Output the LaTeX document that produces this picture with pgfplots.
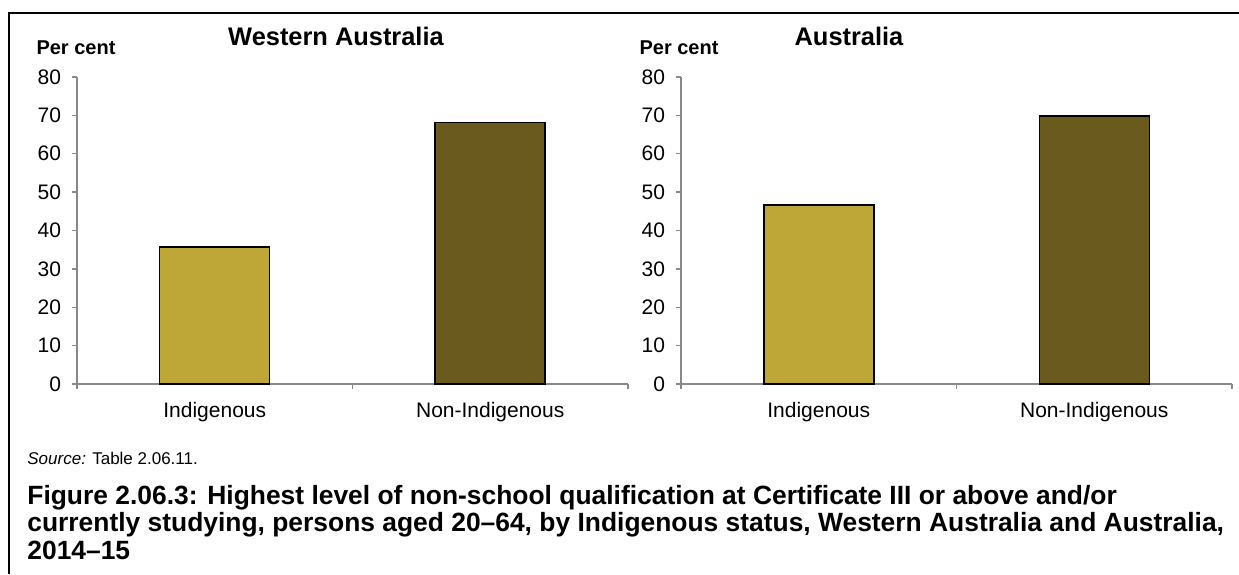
\documentclass[border=0pt]{standalone}
\usepackage{pgfplots}
\pgfplotsset{compat=1.18}
\usepackage{fontspec}
\setmainfont{Liberation Sans}
\definecolor{gold}{RGB}{190,167,54}
\definecolor{olive}{RGB}{106,90,30}
\definecolor{axgray}{RGB}{137,137,137}
\pgfplotsset{panel/.style={
  scale only axis, width=275.5pt, height=153.5pt,
  anchor=south west,
  xmin=-0.5, xmax=1.5, ymin=0, ymax=80,
  ytick={0,10,...,80},
  xtick={-0.5,0.5,1.5}, xticklabels={},
  extra x ticks={0,1},
  extra x tick labels={Indigenous,Non-Indigenous},
  extra x tick style={tick style={draw=none}},
  axis x line*=bottom, axis y line*=left,
  axis line style={draw=axgray, line width=0.7pt},
  tick style={draw=axgray, line width=0.7pt},
  tick align=outside,
  major tick length=2.5pt,
  /pgf/number format/assume math mode=true,
  tick label style={font=\fontsize{10.5}{12}\selectfont},
  yticklabel style={xshift=-2pt},
  xticklabel style={yshift=-3pt},
  clip=false,
}}
\begin{document}
\begin{tikzpicture}
\useasboundingbox (0,0) rectangle (619.5pt,287pt);
\draw[line width=0.9pt] (4.5pt,0) -- (4.5pt,280.5pt) -- (619.5pt,280.5pt);
\begin{axis}[panel, at={(38.5pt,95pt)}]
\addplot[ybar, bar width=55pt, fill=gold, draw=black, line width=0.75pt] coordinates {(0,35.7)};
\addplot[ybar, bar width=55pt, fill=olive, draw=black, line width=0.75pt] coordinates {(1,68.1)};
\end{axis}
\begin{axis}[panel, at={(340.5pt,95pt)}]
\addplot[ybar, bar width=55pt, fill=gold, draw=black, line width=0.75pt] coordinates {(0,46.7)};
\addplot[ybar, bar width=55pt, fill=olive, draw=black, line width=0.75pt] coordinates {(1,69.9)};
\end{axis}
\node[font=\bfseries\fontsize{10}{12}\selectfont] at (38pt,263pt) {Per cent};
\node[font=\bfseries\fontsize{12.7}{15}\selectfont] at (168pt,269pt) {Western Australia};
\node[font=\bfseries\fontsize{10}{12}\selectfont] at (339.5pt,263pt) {Per cent};
\node[font=\bfseries\fontsize{12.7}{15}\selectfont] at (424.5pt,269pt) {Australia};
\node[anchor=base west, inner sep=0pt, font=\fontsize{8.5}{10}\selectfont] at (13.5pt,54.5pt) {\textit{Source:} Table 2.06.11.};
\node[anchor=base west, inner sep=0pt, font=\bfseries\fontsize{13.2}{15}\selectfont] at (13.5pt,34.5pt) {Figure 2.06.3: Highest level of non-school qualification at Certificate III or above and/or};
\node[anchor=base west, inner sep=0pt, font=\bfseries\fontsize{13.2}{15}\selectfont] at (13.5pt,21pt) {currently studying, persons aged 20--64, by Indigenous status, Western Australia and Australia,};
\node[anchor=base west, inner sep=0pt, font=\bfseries\fontsize{13.2}{15}\selectfont] at (13.5pt,7.5pt) {2014--15};
\end{tikzpicture}
\end{document}
